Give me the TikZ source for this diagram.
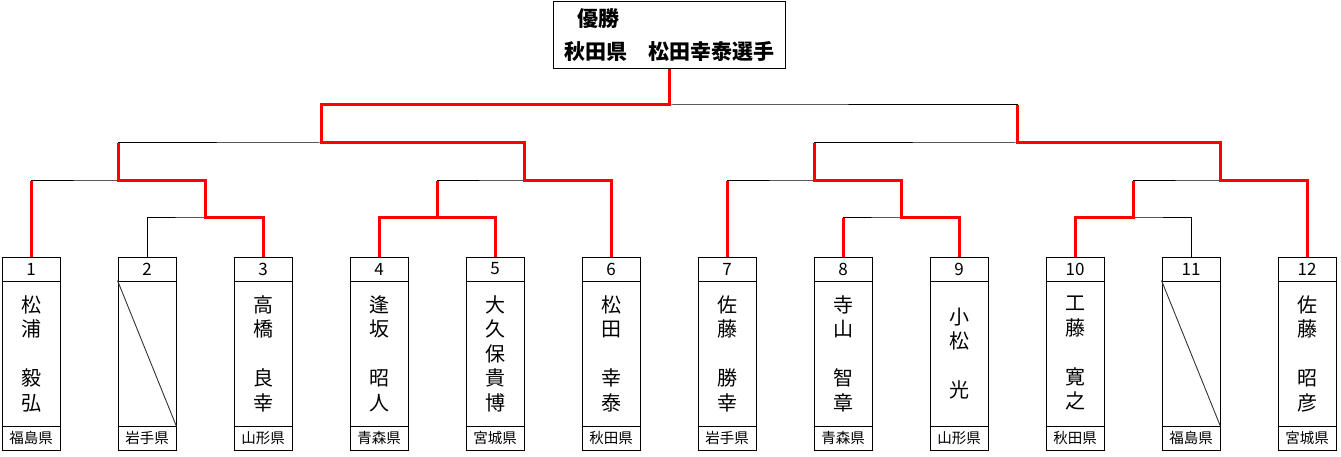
\documentclass[tikz,border=0pt]{standalone}
\usepackage{fontspec}
\setmainfont{Noto Sans CJK JP}
\usepackage{tikz}

\begin{document}
\begin{tikzpicture}[x=1pt, y=-1pt,
    cell/.style={draw, line width=1pt, minimum width=58pt, inner sep=0pt},
    numcell/.style={cell, minimum height=24pt, font=\fontsize{17}{17}\selectfont},
    namecell/.style={cell, minimum height=145pt, align=center, font=\fontsize{20}{24.5}\selectfont},
    prefcell/.style={cell, minimum height=24pt, font=\fontsize{14.5}{14.5}\selectfont},
    bracket/.style={line width=1pt},
    winline/.style={red, line width=3pt},
    byeline/.style={black!80, line width=0.9pt}]
    \useasboundingbox (0,0) rectangle (1341,457);

    \node[draw, line width=1pt, minimum width=232pt, minimum height=67pt, align=left, font=\fontsize{21}{33}\selectfont\bfseries] (champ) at (669,35.5) {\hspace*{13pt}優勝\\秋田県　松田幸泰選手};

    \node[numcell] (n1) at (31,269) {1};
    \node[namecell] (name1) at (31,353.5) {松\\浦\\　\\毅\\弘};
    \node[prefcell] (pref1) at (31,438) {福島県};

    \node[numcell] (n2) at (147,269) {2};
    \node[namecell] (name2) at (147,353.5) {};
    \node[prefcell] (pref2) at (147,438) {岩手県};

    \node[numcell] (n3) at (263,269) {3};
    \node[namecell] (name3) at (263,353.5) {高\\橋\\　\\良\\幸};
    \node[prefcell] (pref3) at (263,438) {山形県};

    \node[numcell] (n4) at (379,269) {4};
    \node[namecell] (name4) at (379,353.5) {逢\\坂\\　\\昭\\人};
    \node[prefcell] (pref4) at (379,438) {青森県};

    \node[numcell] (n5) at (495,269) {5};
    \node[namecell] (name5) at (495,353.5) {大\\久\\保\\貴\\博};
    \node[prefcell] (pref5) at (495,438) {宮城県};

    \node[numcell] (n6) at (611,269) {6};
    \node[namecell] (name6) at (611,353.5) {松\\田\\　\\幸\\泰};
    \node[prefcell] (pref6) at (611,438) {秋田県};

    \node[numcell] (n7) at (727,269) {7};
    \node[namecell] (name7) at (727,353.5) {佐\\藤\\　\\勝\\幸};
    \node[prefcell] (pref7) at (727,438) {岩手県};

    \node[numcell] (n8) at (843,269) {8};
    \node[namecell] (name8) at (843,353.5) {寺\\山\\　\\智\\章};
    \node[prefcell] (pref8) at (843,438) {青森県};

    \node[numcell] (n9) at (959,269) {9};
    \node[namecell] (name9) at (959,353.5) {小\\松\\　\\光};
    \node[prefcell] (pref9) at (959,438) {山形県};

    \node[numcell] (n10) at (1075,269) {10};
    \node[namecell] (name10) at (1075,353.5) {工\\藤\\　\\寛\\之};
    \node[prefcell] (pref10) at (1075,438) {秋田県};

    \node[numcell] (n11) at (1191,269) {11};
    \node[namecell] (name11) at (1191,353.5) {};
    \node[prefcell] (pref11) at (1191,438) {福島県};

    \node[numcell] (n12) at (1307,269) {12};
    \node[namecell] (name12) at (1307,353.5) {佐\\藤\\　\\昭\\彦};
    \node[prefcell] (pref12) at (1307,438) {宮城県};

    \draw[byeline] (name2.north west) -- (name2.south east);
    \draw[byeline] (name11.north west) -- (name11.south east);

    \coordinate (j23) at (205,218);
    \coordinate (j123) at (118,181);
    \coordinate (j45) at (437,218);
    \coordinate (j456) at (524,181);
    \coordinate (jL) at (321,143);
    \coordinate (jF) at (669,105);
    \coordinate (j89) at (901,218);
    \coordinate (j789) at (814,181);
    \coordinate (j1011) at (1133,218);
    \coordinate (j101112) at (1220,181);
    \coordinate (jR) at (1017,143);

    \draw[bracket] (n2.north) |- (j23) -| (n3.north);
    \draw[bracket] (n1.north) |- (j123) -| (j23);
    \draw[bracket] (n4.north) |- (j45) -| (n5.north);
    \draw[bracket] (j45) |- (j456) -| (n6.north);
    \draw[bracket] (j123) |- (jL) -| (j456);
    \draw[bracket] (n8.north) |- (j89) -| (n9.north);
    \draw[bracket] (n7.north) |- (j789) -| (j89);
    \draw[bracket] (n10.north) |- (j1011) -| (n11.north);
    \draw[bracket] (j1011) |- (j101112) -| (n12.north);
    \draw[bracket] (j789) |- (jR) -| (j101112);
    \draw[bracket] (jL) |- (jF) -| (jR);
    \draw[bracket] (jF) -- (champ.south);

    \draw[winline] (n1.north) -- (n1.north |- j123);
    \draw[winline] (n3.north) |- (j23) |- (j123) -- (j123 |- jL);
    \draw[winline] (n4.north) |- (j45);
    \draw[winline] (n5.north) |- (j45) -- (j45 |- j456);
    \draw[winline] (n6.north) |- (j456) |- (jL) |- (jF) -- (champ.south);
    \draw[winline] (n7.north) -- (n7.north |- j789);
    \draw[winline] (n8.north) -- (n8.north |- j89);
    \draw[winline] (n9.north) |- (j89) |- (j789) -- (j789 |- jR);
    \draw[winline] (n10.north) |- (j1011) -- (j1011 |- j101112);
    \draw[winline] (n12.north) |- (j101112) |- (jR) -- (jR |- jF);
\end{tikzpicture}
\end{document}
